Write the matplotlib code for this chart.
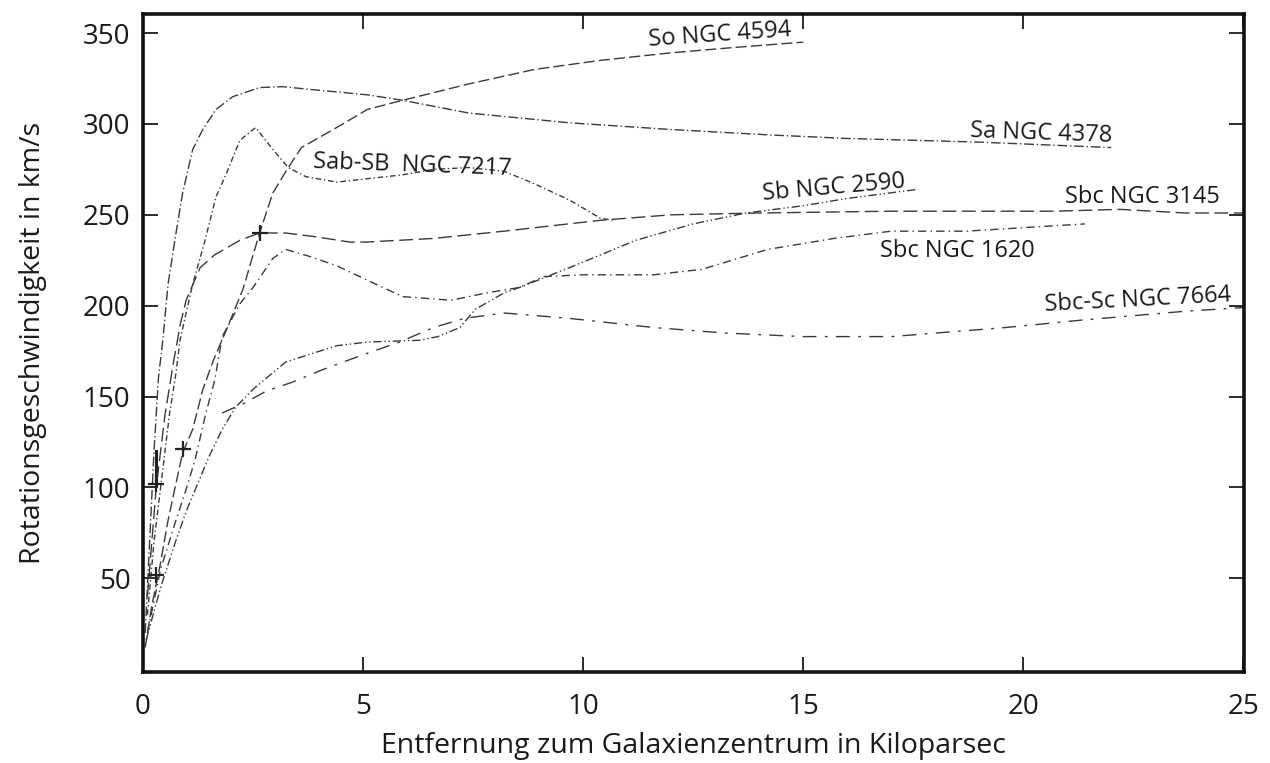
import matplotlib
matplotlib.use('Agg')
import matplotlib.pyplot as plt

plt.rcParams['font.family'] = ['Open Sans', 'DejaVu Sans']

# Rotationskurven (Entfernung in kpc, Geschwindigkeit in km/s)
so_4594_r = [0.05, 0.2, 0.38, 0.57, 0.72, 0.9, 1.13, 1.36, 1.6, 1.9, 2.27, 2.65, 2.95, 3.3, 3.6, 4.4,
             5.1, 5.9, 7.4, 8.9, 10.4, 11.95, 13.4, 15.0]
so_4594_v = [12, 35, 56, 82, 99, 119, 132, 154, 170, 187, 209, 240, 262, 276, 287, 298,
             308, 313, 322, 330, 335, 339, 342, 345]

sa_4378_r = [0.05, 0.15, 0.25, 0.35, 0.45, 0.57, 0.75, 0.9, 1.13, 1.36, 1.66, 2.04, 2.65, 3.17, 3.8,
             5.1, 5.9, 7.4, 9.7, 11.95, 14.2, 16.0, 19.0, 22.0]
sa_4378_v = [20, 70, 120, 160, 181, 212, 240, 262, 286, 297, 308, 315, 320, 320.5, 319,
             316, 313, 306, 300.6, 297, 294, 292, 290, 287]

sab_7217_r = [0.1, 0.25, 0.45, 0.6, 0.75, 0.84, 1.13, 1.4, 1.66, 1.9, 2.2, 2.56, 2.95, 3.3, 3.7,
              4.4, 5.9, 6.6, 7.4, 8.2, 8.9, 9.7, 10.4, 10.7]
sab_7217_v = [30, 70, 110, 140, 163, 181, 212, 235, 260, 273, 291, 298, 286, 276, 271,
              268, 272, 275, 276, 274, 267, 258, 248, 247]

sb_2590_r = [0.07, 0.4, 0.75, 1.0, 1.5, 1.8, 2.1, 2.5, 3.24, 4.4, 5.1, 6.3, 6.7, 7.2, 7.55, 8.2,
             8.55, 9.7, 11.2, 12.5, 13.7, 15.0, 16.0, 17.6]
sb_2590_v = [16, 45, 71, 88, 117, 132, 144, 154, 169, 178, 180, 181, 183, 188, 198, 207,
             210, 221, 236, 245, 251, 255, 259, 264]

sbc_3145_r = [0.1, 0.3, 0.5, 0.7, 0.85, 0.98, 1.3, 1.63, 2.2, 2.65, 3.24, 3.9, 4.7, 5.06, 6.6,
              8.2, 10.4, 12.0, 14.0, 17.0, 19.0, 20.7, 22.2, 23.7, 25.0]
sbc_3145_v = [40, 100, 140, 170, 190, 203, 221, 228, 236, 240, 240, 238, 235, 235, 237,
              241, 247, 250, 251, 252, 252, 252, 253, 251, 251]

sbc_1620_r = [0.1, 0.4, 0.75, 0.98, 1.18, 1.43, 1.63, 1.8, 2.2, 2.5, 2.95, 3.24, 3.8, 4.4, 5.1,
              5.9, 7.0, 7.8, 8.55, 9.1, 10.0, 11.6, 12.7, 14.2, 15.7, 17.0, 18.7, 21.4]
sbc_1620_v = [20, 55, 82, 99, 115, 141, 159, 183, 201, 210, 226, 231, 227, 222, 214,
              205, 203, 207, 210, 216, 217, 217, 220, 231, 237, 241, 241, 245]

sbc_7664_r = [1.8, 2.27, 2.8, 3.4, 4.1, 5.0, 5.83, 6.6, 7.3, 8.2, 9.7, 11.6, 13.2, 15.0, 17.0,
              19.6, 21.3, 23.7, 25.0]
sbc_7664_v = [141, 146, 153, 158, 165, 173, 180, 188, 193, 196, 193, 188, 185, 183, 183,
              188, 192, 197, 199]

# einzelne Messpunkte nahe dem Zentrum
punkte_r = [0.3, 0.3, 0.9, 2.65]
punkte_v = [102, 52, 121, 240]

fig = plt.figure(figsize=(12.7, 7.63), dpi=100)
ax = fig.add_axes([0.1126, 0.1193, 0.867, 0.8624])

LINIE = '#3a3a3a'
kurven = [
    (so_4594_r, so_4594_v, (0, (8, 3))),
    (sa_4378_r, sa_4378_v, (0, (7, 2, 1, 2))),
    (sab_7217_r, sab_7217_v, (0, (4, 2, 1, 2))),
    (sb_2590_r, sb_2590_v, (0, (6, 2, 1, 2, 1, 2))),
    (sbc_3145_r, sbc_3145_v, (0, (10, 4))),
    (sbc_1620_r, sbc_1620_v, (0, (6, 3, 1, 3))),
    (sbc_7664_r, sbc_7664_v, (0, (10, 6, 2, 6))),
]
for r, v, ls in kurven:
    ax.plot(r, v, color=LINIE, lw=1.0, linestyle=ls)

ax.plot(punkte_r, punkte_v, linestyle='none', marker='+', ms=12, mew=1.6, color='#222222')
ax.plot([0.3, 0.3], [102, 120], color='#222222', lw=2.2)

# Beschriftungen der Galaxien
beschriftung = dict(fontsize=17, color='#1a1a1a')
ax.text(13.1, 349, 'So NGC 4594', ha='center', va='center', rotation=4, **beschriftung)
ax.text(20.4, 295, 'Sa NGC 4378', ha='center', va='center', rotation=-2, **beschriftung)
ax.text(3.85, 277, 'Sab-SB  NGC 7217', ha='left', va='center', rotation=-2, **beschriftung)
ax.text(15.7, 265, 'Sb NGC 2590', ha='center', va='center', rotation=5, **beschriftung)
ax.text(22.7, 260, 'Sbc NGC 3145', ha='center', va='center', **beschriftung)
ax.text(18.5, 230, 'Sbc NGC 1620', ha='center', va='center', **beschriftung)
ax.text(22.6, 203, 'Sbc-Sc NGC 7664', ha='center', va='center', rotation=3, **beschriftung)

ax.set_xlim(0.05, 25.02)
ax.set_ylim(-1.5, 360.5)
ax.set_xticks([0, 5, 10, 15, 20, 25])
ax.set_yticks([50, 100, 150, 200, 250, 300, 350])
ax.tick_params(direction='in', length=11, width=1.3, top=True, right=True,
               labelsize=20, pad=9, colors='#1a1a1a')
ax.tick_params(axis='x', pad=15)
for s in ax.spines.values():
    s.set_linewidth(2.6)
    s.set_color('#111111')

ax.set_xlabel('Entfernung zum Galaxienzentrum in Kiloparsec', fontsize=20.5, labelpad=8, color='#1a1a1a')
ax.set_ylabel('Rotationsgeschwindigkeit in km/s', fontsize=20.5, labelpad=26, color='#1a1a1a')

fig.savefig('out.png', dpi=100)
